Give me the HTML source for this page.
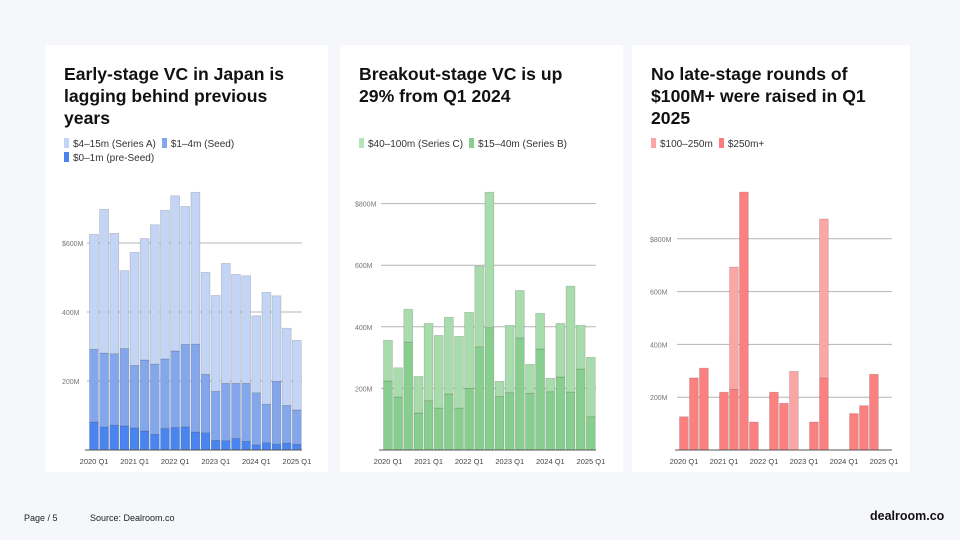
<!DOCTYPE html>
<html><head><meta charset="utf-8"><style>
body{margin:0;width:960px;height:540px;background:#f6f7fb;font-family:"Liberation Sans","Noto Sans CJK SC",sans-serif;position:relative;overflow:hidden}
.card{position:absolute;top:45px;height:427px;background:#fff}
.title{position:absolute;left:19px;top:18px;font-size:17.6px;font-weight:bold;line-height:22px;color:#111;width:250px}
.legend{position:absolute;left:19px;font-size:10px;color:#333;line-height:14px;width:260px}
.legend span.sw{display:inline-block;width:5px;height:10px;vertical-align:-1px;margin-right:4px}
.legend .it{margin-right:6px;white-space:nowrap}
svg{position:absolute;left:0;top:0}
.foot{position:absolute;font-size:9px;color:#222}
</style></head><body>
<div class="card" style="left:45px;width:283px">
 <div class="title">Early-stage VC in Japan is lagging behind previous years</div>
 <div class="legend" style="top:93px">
  <span class="it"><span class="sw" style="background:#c3d4f4"></span>$4–15m (Series A)</span><span class="it"><span class="sw" style="background:#84a7eb"></span>$1–4m (Seed)</span><br>
  <span class="it"><span class="sw" style="background:#4a84ef"></span>$0–1m (pre-Seed)</span>
 </div>
</div>
<div class="card" style="left:340px;width:283px">
 <div class="title" style="width:225px">Breakout-stage VC is up 29% from Q1 2024</div>
 <div class="legend" style="top:93px">
  <span class="it"><span class="sw" style="background:#b6e3b8"></span>$40–100m (Series C)</span><span class="it"><span class="sw" style="background:#88cf8f"></span>$15–40m (Series B)</span>
 </div>
</div>
<div class="card" style="left:632px;width:278px">
 <div class="title" style="width:240px">No late-stage rounds of $100M+ were raised in Q1 2025</div>
 <div class="legend" style="top:93px">
  <span class="it"><span class="sw" style="background:#fca5a5"></span>$100–250m</span><span class="it"><span class="sw" style="background:#fb7f7f"></span>$250m+</span>
 </div>
</div>
<svg id="chart" width="960" height="540"></svg>
<div class="foot" style="left:24px;top:513px">Page / 5</div>
<div class="foot" style="left:90px;top:513px">Source: Dealroom.co</div>
<div class="foot" style="left:870px;top:509px;font-size:12.5px;font-weight:bold;color:#111">dealroom.co</div>
<script>
const quarterLabels=["2020 Q1","2021 Q1","2022 Q1","2023 Q1","2024 Q1","2025 Q1"];
const earlyPreSeed=[81,67,72,70,64,55,45,62,65,67,52,50,28,27,33,25,15,21,17,20,16];
const earlySeed=[211,214,207,224,181,206,204,202,222,239,255,169,142,166,160,168,151,112,182,109,100];
const earlySeriesA=[333,417,349,226,328,352,404,431,450,400,440,296,278,348,316,312,223,324,248,224,202];
const breakoutSeriesB=[224,172,350,120,160,136,182,136,200,335,397,174,186,364,184,328,189,237,188,263,108];
const breakoutSeriesC=[132,95,107,119,251,236,249,233,247,262,440,49,219,154,94,116,44,174,344,142,193];
const late250Plus=[126,273,310,0,219,229,977,106,0,219,177,0,0,106,272,0,0,138,168,287,0];
const late100to250=[0,0,0,0,0,464,0,0,0,0,0,298,0,0,603,0,0,0,0,0,0];
const earlyTicks=[200,400,600];
const breakoutTicks=[200,400,600,800];
const lateTicks=[200,400,600,800];

const svg=document.getElementById('chart');
const NS='http://www.w3.org/2000/svg';
function mk(tag,attrs){const e=document.createElementNS(NS,tag);for(const k in attrs)e.setAttribute(k,attrs[k]);svg.appendChild(e);return e;}

function drawChart(cfg){
  const n=cfg.series[0].length;
  const step=(cfg.x1-cfg.x0)/n;
  const xOf=i=>cfg.x0+i*step;
  const yOf=v=>cfg.base-v*cfg.scale;
  cfg.ticks.forEach((t,i)=>{
    const g=mk('line',{x1:cfg.gx0,x2:cfg.gx1,y1:yOf(t),y2:yOf(t),stroke:'#b5b5b5','stroke-width':1});
    
    
    const tx=mk('text',{x:cfg.lx,y:yOf(t)+3,'font-size':7,fill:'#777','font-family':'Liberation Sans, sans-serif'});
    tx.textContent=(i===cfg.ticks.length-1?'$':'')+t+'M';
    
    
  });
  for(let i=0;i<n;i++){
    let acc=0;
    cfg.series.forEach((s,k)=>{
      const v=s[i]; if(!v) return;
      const r=mk('rect',{x:xOf(i)+0.5,width:step-1.2,y:yOf(acc+v),height:v*cfg.scale,fill:cfg.colors[k],stroke:'rgba(0,0,0,0.18)','stroke-width':0.7});
      
      
      acc+=v;
    });
  }
  const ax=mk('line',{x1:cfg.gx0-2,x2:cfg.gx1,y1:cfg.base,y2:cfg.base,stroke:'#555','stroke-width':1});
  
  
  quarterLabels.forEach((l,j)=>{
    const t=mk('text',{x:xOf(j*4)+step/2,y:cfg.base+14,'font-size':7.5,fill:'#444','text-anchor':'middle','font-family':'Liberation Sans, sans-serif'});
    t.textContent=l;
    
    
  });
}
drawChart({id:'early',x0:89,x1:302,gx0:87,gx1:302,lx:62,base:450,scale:0.345,ticks:earlyTicks,
  series:[earlyPreSeed,earlySeed,earlySeriesA],colors:['#4a84ef','#84a7eb','#c3d4f4'],names:['pre-seed','seed','series-a']});
drawChart({id:'breakout',x0:383,x1:596,gx0:381,gx1:596,lx:355,base:450,scale:0.308,ticks:breakoutTicks,
  series:[breakoutSeriesB,breakoutSeriesC],colors:['#88cf8f','#a9dcac'],names:['series-b','series-c']});
drawChart({id:'late',x0:679,x1:889,gx0:677,gx1:892,lx:650,base:450,scale:0.264,ticks:lateTicks,
  series:[late250Plus,late100to250],colors:['#fb8080','#fca5a5'],names:['250m-plus','100-250m']});
</script>
</body></html>
